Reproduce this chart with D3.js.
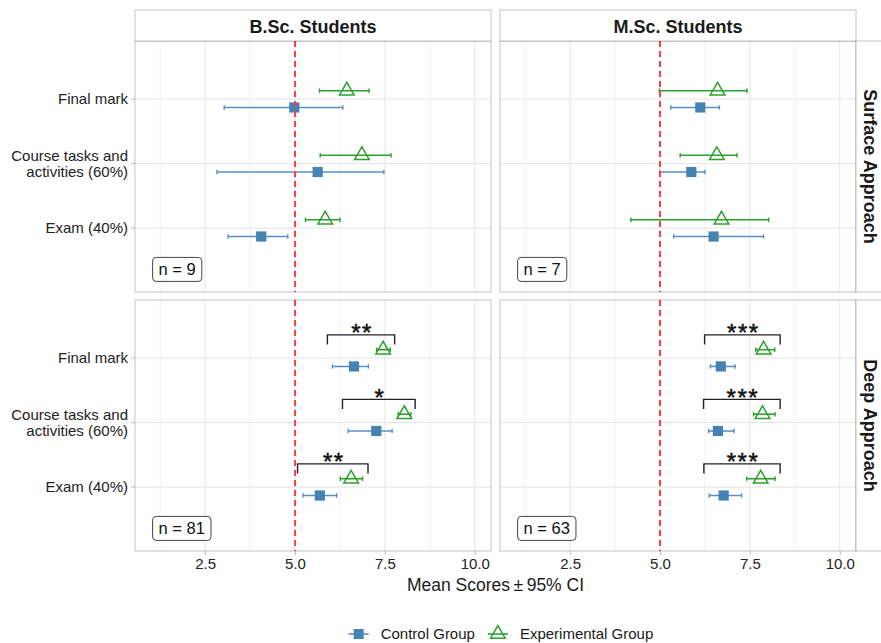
<!DOCTYPE html>
<html><head><meta charset="utf-8">
<script src="https://cdn.jsdelivr.net/npm/d3@7"></script>
<style>body{margin:0;background:#fff;} svg{display:block;font-family:"Liberation Sans",Arial,Helvetica,sans-serif;}</style>
</head><body><svg id="chart" width="881" height="643"></svg>
<script>
// ---------------- data ----------------
const categories = ["Final mark", "Course tasks and\nactivities (60%)", "Exam (40%)"];
const categoryPos = [3, 2, 1];
const programs = ["B.Sc. Students", "M.Sc. Students"];
const approaches = ["Surface Approach", "Deep Approach"];
const groups = ["Control Group", "Experimental Group"];
const xTicks = [2.5, 5.0, 7.5, 10.0];
const xMinor = [1.25, 3.75, 6.25, 8.75];
const xLimits = [1, 10];
const referenceLine = 5;
// panel order: B.Sc. Surface, M.Sc. Surface, B.Sc. Deep, M.Sc. Deep
const sampleSizes = [9, 7, 81, 63];
const controlMean = [[4.98, 5.63, 4.06], [6.12, 5.87, 6.49], [6.64, 7.26, 5.69], [6.69, 6.61, 6.77]];
const controlLow  = [[3.03, 2.83, 3.14], [5.30, 4.99, 5.38], [6.04, 6.48, 5.22], [6.40, 6.35, 6.37]];
const controlHigh = [[6.33, 7.47, 4.80], [6.65, 6.25, 7.88], [7.04, 7.70, 6.16], [7.09, 7.06, 7.27]];
const expMean = [[6.44, 6.86, 5.84], [6.60, 6.58, 6.71], [7.45, 8.04, 6.56], [7.88, 7.85, 7.80]];
const expLow  = [[5.68, 5.70, 5.29], [4.98, 5.56, 4.19], [7.27, 7.87, 6.26], [7.66, 7.60, 7.41]];
const expHigh = [[7.06, 7.67, 6.25], [7.42, 7.14, 8.02], [7.65, 8.22, 6.88], [8.19, 8.20, 8.20]];
const bracketStart = [null, null, [5.90, 6.32, 5.07], [6.24, 6.21, 6.22]];
const bracketEnd   = [null, null, [7.77, 8.34, 7.03], [8.34, 8.34, 8.34]];
const bracketLabel = [null, null, ["**", "*", "**"], ["***", "***", "***"]];

// ---------------- style / layout ----------------
const CTRL = "#4682b4", CTRL_BAR = "#5b8fc2", EXP = "#2ca02c";
const colX = [[135, 491], [500, 856]];
const rowY = [[41, 292], [300, 551]];
const stripTop = 10;
const dodge = 0.13;

const svg = d3.select("#chart");
const expand = (xLimits[1] - xLimits[0]) * 0.05;

for (let p = 0; p < 4; p++) {
  const r = Math.floor(p / 2), c = p % 2;
  const [x0, x1] = colX[c], [y0, y1] = rowY[r];
  const x = d3.scaleLinear().domain([xLimits[0] - expand, xLimits[1] + expand]).range([x0, x1]);
  const y = d3.scaleLinear().domain([0.01, 3.9]).range([y1, y0]);
  const g = svg.append("g");

  // gridlines
  g.selectAll(".minor").data(xMinor).join("line")
    .attr("x1", d => x(d)).attr("x2", d => x(d)).attr("y1", y0).attr("y2", y1)
    .attr("stroke", "#f0f0f0").attr("stroke-width", 1);
  g.selectAll(".major").data(xTicks).join("line")
    .attr("x1", d => x(d)).attr("x2", d => x(d)).attr("y1", y0).attr("y2", y1)
    .attr("stroke", "#e4e4e4").attr("stroke-width", 1);
  g.selectAll(".hgrid").data(categoryPos).join("line")
    .attr("x1", x0).attr("x2", x1).attr("y1", d => y(d)).attr("y2", d => y(d))
    .attr("stroke", "#e4e4e4").attr("stroke-width", 1);

  // error bars
  const drawBars = (means, lows, highs, off, color) => {
    categoryPos.forEach((cp, i) => {
      const yy = y(cp + off);
      g.append("line").attr("x1", x(lows[i])).attr("x2", x(highs[i])).attr("y1", yy).attr("y2", yy)
        .attr("stroke", color).attr("stroke-width", 1.6);
      [lows[i], highs[i]].forEach(v => {
        g.append("line").attr("x1", x(v)).attr("x2", x(v)).attr("y1", yy - 2.2).attr("y2", yy + 2.2)
          .attr("stroke", color).attr("stroke-width", 1.4);
      });
    });
  };
  drawBars(controlMean[p], controlLow[p], controlHigh[p], -dodge, CTRL_BAR);
  drawBars(expMean[p], expLow[p], expHigh[p], dodge, EXP);

  // markers
  categoryPos.forEach((cp, i) => {
    g.append("path").attr("d", d3.symbol(d3.symbolSquare, 104)())
      .attr("transform", `translate(${x(controlMean[p][i])},${y(cp - dodge)})`)
      .attr("fill", CTRL);
    g.append("path").attr("d", d3.symbol(d3.symbolTriangle, 92)())
      .attr("transform", `translate(${x(expMean[p][i])},${y(cp + dodge)})`)
      .attr("fill", "none").attr("stroke", EXP).attr("stroke-width", 1.5);
  });

  // reference line
  g.append("line").attr("x1", x(referenceLine)).attr("x2", x(referenceLine)).attr("y1", y0).attr("y2", y1)
    .attr("stroke", "#ff4040").attr("stroke-width", 2).attr("stroke-dasharray", "6,4");

  // significance brackets
  if (bracketStart[p]) {
    categoryPos.forEach((cp, i) => {
      const top = y(cp + 0.36), bot = y(cp + 0.21);
      const xa = x(bracketStart[p][i]), xb = x(bracketEnd[p][i]);
      g.append("path").attr("d", `M${xa},${bot}V${top}H${xb}V${bot}`)
        .attr("fill", "none").attr("stroke", "#222").attr("stroke-width", 1.4);
      g.append("text").attr("x", (xa + xb) / 2 + 1).attr("y", top + 6.5)
        .attr("text-anchor", "middle").attr("font-size", 24).attr("letter-spacing", 1.5)
        .attr("fill", "#111").attr("stroke", "#111").attr("stroke-width", 0.5)
        .text(bracketLabel[p][i]);
    });
  }

  // n label
  const lt = g.append("text").attr("x", x(1.04) + 6).attr("y", y(0.36))
    .attr("dy", "0.36em").attr("font-size", 16.5).attr("fill", "#111")
    .text("n = " + sampleSizes[p]);
  const bb = lt.node().getBBox();
  g.insert("rect", "text:last-of-type")
    .attr("x", x(1.04)).attr("y", y(0.36) - 12).attr("width", bb.width + 12).attr("height", 24)
    .attr("rx", 3.5).attr("fill", "#fff").attr("stroke", "#444").attr("stroke-width", 1);
  lt.raise();

  // panel border
  g.append("rect").attr("x", x0).attr("y", y0).attr("width", x1 - x0).attr("height", y1 - y0)
    .attr("fill", "none").attr("stroke", "rgba(0,0,0,0.2)").attr("stroke-width", 1.2);

  // y axis (left column only)
  if (c === 0) {
    categoryPos.forEach((cp, i) => {
      const yy = y(cp);
      g.append("line").attr("x1", x0 - 4).attr("x2", x0).attr("y1", yy).attr("y2", yy)
        .attr("stroke", "#bbb").attr("stroke-width", 1);
      const lines = categories[i].split("\n");
      const t = g.append("text").attr("text-anchor", "end").attr("font-size", 15).attr("fill", "#222");
      lines.forEach((ln, k) => {
        t.append("tspan").attr("x", x0 - 7)
          .attr("y", yy + 5.3 + (k - (lines.length - 1) / 2) * 16.5).text(ln);
      });
    });
  }
  // x axis (bottom row only)
  if (r === 1) {
    const ax = g.append("g").attr("transform", `translate(0,${y1})`)
      .call(d3.axisBottom(x).tickValues(xTicks).tickFormat(d3.format(".1f")).tickSize(4).tickPadding(3));
    ax.select(".domain").remove();
    ax.selectAll("line").attr("stroke", "#bbb");
    ax.selectAll("text").attr("font-size", 15).attr("fill", "#222")
      .attr("font-family", "Liberation Sans, Arial, sans-serif");
  }
  // top strips
  if (r === 0) {
    g.append("rect").attr("x", x0).attr("y", stripTop).attr("width", x1 - x0).attr("height", y0 - stripTop)
      .attr("fill", "#fff").attr("stroke", "rgba(0,0,0,0.2)").attr("stroke-width", 1.2);
    g.append("text").attr("x", (x0 + x1) / 2).attr("y", 33).attr("text-anchor", "middle")
      .attr("font-size", 18).attr("font-weight", "bold").attr("fill", "#1a1a1a").text(programs[c]);
  }
  // right strips
  if (c === 1) {
    g.append("rect").attr("x", x1).attr("y", y0).attr("width", 40).attr("height", y1 - y0)
      .attr("fill", "#fff").attr("stroke", "rgba(0,0,0,0.2)").attr("stroke-width", 1.2);
    g.append("text").attr("transform", `translate(870.5,${(y0 + y1) / 2}) rotate(90)`)
      .attr("text-anchor", "middle").attr("dy", "0.36em")
      .attr("font-size", 18).attr("font-weight", "bold").attr("fill", "#1a1a1a").text(approaches[r]);
  }
}

// x-axis title
svg.append("text").attr("x", 495.5).attr("y", 591).attr("text-anchor", "middle")
  .attr("font-size", 17.5).attr("fill", "#1a1a1a").text("Mean Scores\u2009\u00b1\u200995% CI");

// legend
const leg = svg.append("g");
const legY = 634;
const items = leg.selectAll("g").data(groups).join("g");
items.each(function (d, i) {
  const it = d3.select(this);
  const color = i === 0 ? CTRL : EXP;
  it.append("line").attr("x1", 0).attr("x2", 20).attr("y1", 0).attr("y2", 0)
    .attr("stroke", i === 0 ? CTRL_BAR : EXP).attr("stroke-width", 1.6);
  if (i === 0) it.append("path").attr("d", d3.symbol(d3.symbolSquare, 100)()).attr("transform", "translate(10,0)").attr("fill", color);
  else it.append("path").attr("d", d3.symbol(d3.symbolTriangle, 92)()).attr("transform", "translate(10,0)")
    .attr("fill", "none").attr("stroke", color).attr("stroke-width", 1.5);
  it.append("text").attr("x", 32).attr("dy", "0.36em").attr("font-size", 15).attr("fill", "#1a1a1a").text(d);
});
const widths = [];
items.each(function () { widths.push(this.getBBox().width); });
const gap = 13;
const total = widths[0] + gap + widths[1];
const start = 501 - total / 2;
items.attr("transform", (d, i) => {
  const tx = i === 0 ? start : start + widths[0] + gap;
  return `translate(${tx},${legY})`;
});
</script></body></html>
